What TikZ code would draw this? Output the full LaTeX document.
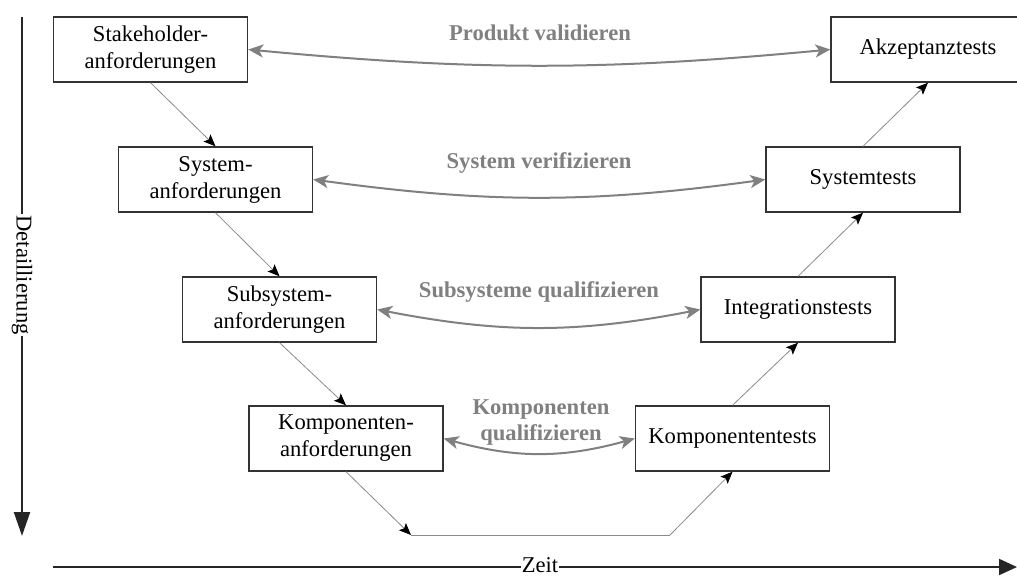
\documentclass[tikz,border=0pt]{standalone}
\usepackage{fontspec}
\setmainfont{Liberation Serif}
\usetikzlibrary{arrows.meta}
\definecolor{linkgray}{HTML}{808080}
\definecolor{thingray}{HTML}{8A8A8A}
\definecolor{boxline}{HTML}{333333}
\tikzset{
  txt/.style={font=\fontsize{22.6}{27}\selectfont},
  stage/.style={txt, draw=boxline, line width=1.4pt, fill=white,
    minimum width=194pt, minimum height=65pt, inner sep=0pt, align=center},
  flow/.style={draw=thingray, line width=0.8pt,
    -{Stealth[length=12pt,width=10pt,inset=2.5pt,black]}},
  plainflow/.style={draw=thingray, line width=0.8pt},
  checkarrow/.style={draw=linkgray, line width=2pt,
    {Stealth[length=15pt,width=13pt,inset=4pt]}-{Stealth[length=15pt,width=13pt,inset=4pt]}},
  checklabel/.style={txt, text=linkgray, font=\fontsize{22.6}{26}\selectfont\bfseries, align=center},
  axis/.style={draw=black!85, line width=2pt},
}
\begin{document}
\begin{tikzpicture}[x=1pt,y=-1pt]
\useasboundingbox (0,0) rectangle (1017,576);

% left branch: requirements
\node[stage] (sh)   at (150.5,49.5)  {Stakeholder-\\anforderungen};
\node[stage] (sys)  at (215.5,179.5) {System-\\anforderungen};
\node[stage] (sub)  at (279.5,309.5) {Subsystem-\\anforderungen};
\node[stage] (komp) at (346,438.5)   {Komponenten-\\anforderungen};

% right branch: tests
\node[stage] (kt)   at (732.5,438.5) {Komponententests};
\node[stage] (it)   at (798,309.5)   {Integrationstests};
\node[stage] (st)   at (863,179.5)   {Systemtests};
\node[stage] (akz)  at (928,49.5)    {Akzeptanztests};

% bottom of the V
\coordinate (vl) at (411,535);
\coordinate (vr) at (670,535);

\draw[flow] (sh.south)   -- (sys.north);
\draw[flow] (sys.south)  -- (sub.north);
\draw[flow] (sub.south)  -- (komp.north);
\draw[flow] (komp.south) -- (vl);
\draw[plainflow] (vl) -- (vr);
\draw[flow] (vr) -- (kt.south);
\draw[flow] (kt.north)   -- (it.south);
\draw[flow] (it.north)   -- (st.south);
\draw[flow] (st.north)   -- (akz.south);

% verification links
\draw[checkarrow] (sh.east)   to[bend right=5.4]  (akz.west);
\draw[checkarrow] (sys.east)  to[bend right=7.8]  (st.west);
\draw[checkarrow] (sub.east)  to[bend right=11]   (it.west);
\draw[checkarrow] (komp.east) to[bend right=15.5] (kt.west);

\node[checklabel] (lprod) at (540,33)  {Produkt validieren};
\node[checklabel] (lsys)  at (539,163) {System verifizieren};
\node[checklabel] (lsub)  at (539,292) {Subsysteme qualifizieren};
\node[checklabel] (lkomp) at (541,422) {Komponenten\\qualifizieren};

% axes
\coordinate (dtop) at (22,17);
\coordinate (dbot) at (22,536);
\draw[axis, -{Triangle[length=24pt,width=16pt]}] (dtop) -- (dbot);
\node[txt, fill=white, inner sep=1pt, rotate=-90] (ldet) at (22,275) {Detaillierung};

\coordinate (zleft) at (53,567);
\coordinate (zright) at (1017,567);
\draw[axis, -{Triangle[length=18pt,width=16pt]}] (zleft) -- (zright);
\node[txt, fill=white, inner sep=1pt] (lzeit) at (540,565) {Zeit};
\end{tikzpicture}
\end{document}
